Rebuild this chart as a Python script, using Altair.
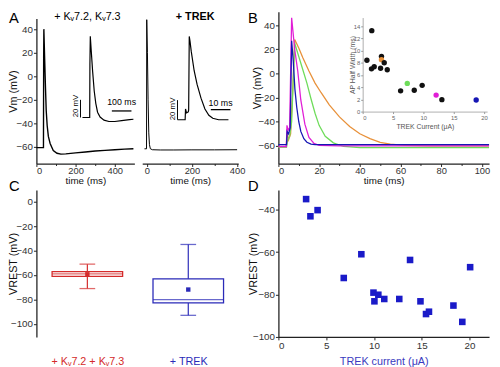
import altair as alt
import pandas as pd

FONT = "Liberation Sans"

# ---------------- Panel A: membrane potential traces ----------------
# A, left: + Kv7.2, Kv7.3 (main trace)
a1_t = [0, 36, 37, 38, 42, 46, 50, 55, 61, 70, 86, 105, 125, 150, 200, 250, 300, 350, 400, 450, 495]
a1_v = [-60.5, -60.5, 15, 40, 15, -8, -29, -42, -51, -57, -63, -65.3, -66, -65.8, -65, -64.2, -63.4, -62.8, -62.3, -61.8, -61.5]
# A, left inset (zoomed trace)
a1_in_t = [10, 47, 48, 50, 55, 62, 70, 78, 87, 100, 120, 145, 175, 210, 250, 270]
a1_in_v = [-60, -60, 0, 32, 15, -8, -30, -44, -54, -59.5, -63, -64.6, -64.6, -63.6, -62.4, -62]
# A, right: + TREK (main trace)
a2_t = [-10, -1, 0, 3, 6, 9, 12, 16, 25, 60, 120, 200, 300, 400]
a2_v = [-61.5, -61.5, 48, 20, -20, -48, -58, -61.5, -62.3, -62.5, -62.5, -62.4, -62.4, -62.3]
# A, right inset (zoomed trace)
a2_in_t = [0, 3.9, 4.1, 4.6, 5.5, 5.7, 6.0, 6.4, 7.0, 8.5, 10, 12, 14, 16, 18, 21, 26]
a2_in_v = [-60, -60, -49, -53, -52, -50, 25, 20, 10, -10, -24, -38, -49, -55.5, -58.5, -60, -60]
a_minor = [100, 300]

# ---------------- Panel B: four traces with different TREK currents ----------------
orange_t = [0, 3.8, 4.3, 5.0, 6.0, 7.0, 8, 10, 12, 15, 18, 21, 25, 30, 35, 40, 45, 50, 55, 62, 75, 103.5]
orange_v = [-61, -61, -49, -55, -50, -15, 28, 21, 13, 2, -8, -16, -26, -36, -44, -50, -54, -57, -58.5, -59.5, -60, -60]
green_t = [0, 4, 4.5, 5.5, 6.5, 7.3, 8, 10, 12, 14, 16, 18, 20, 23, 27, 32, 40, 103.5]
green_v = [-61, -61, -55, -52, -40, -5, 25, 14, 3, -8, -21, -33, -43, -52, -57.5, -60.5, -61.5, -61.5]
magenta_t = [0, 3.9, 4.2, 4.8, 5.5, 6.0, 6.5, 8, 9.5, 11, 13, 15, 17.5, 20, 30, 103.5]
magenta_v = [-60.5, -60.5, -43, -47, -45, 0, 46, 20, 2, -22, -42, -53, -58, -59.5, -60, -60]
navy_t = [0, 4, 4.3, 5.0, 5.8, 6.5, 7.3, 8.1, 9, 10, 11, 12.5, 14, 16, 18, 25, 103.5]
navy_v = [-59, -59, -48, -50, -45, 27, 10, -13, -28, -40, -48, -54, -57, -58.6, -59, -59, -59]
b_colors = ["#E8913A", "#6EDC5A", "#E11ED6", "#1616B4"]
b_minor = [10, 30, 50, 70, 90]

# B inset: AP half width vs TREK current
inset_cur = [1.5, 0.7, 1.45, 1.9, 3.1, 3.1, 3.55, 2.95, 4.05, 6.25, 8.5, 7.35, 9.8, 12.1, 13.05, 18.7]
inset_hw = [13.25, 8.4, 7.0, 7.35, 9.05, 8.5, 8.0, 7.1, 6.85, 3.4, 3.5, 4.62, 4.3, 2.7, 1.95, 1.9]
inset_col = ["#111111", "#111111", "#111111", "#111111", "#111111", "#E8913A", "#111111", "#111111",
             "#111111", "#111111", "#111111", "#6EDC5A", "#111111", "#E11ED6", "#111111", "#1616B4"]

# ---------------- Panel C: box plots of V_REST ----------------
c_groups = ["+ K\u1d657.2 + K\u1d657.3", "+ TREK"]
c_lo = [-71.1, -93.0]
c_q1 = [-61.2, -82.9]
c_med = [-59.1, -80.2]
c_q3 = [-57.2, -63.1]
c_hi = [-51.1, -35.0]
c_mean = [-59.4, -71.9]
c_color = ["#D42A2A", "#2A2AB8"]

# ---------------- Panel D: V_REST vs TREK current ----------------
d_cur = [2.9, 3.35, 4.1, 6.84, 8.68, 9.95, 10.05, 10.46, 11.08, 12.65, 13.78, 14.87, 15.45, 15.76, 18.32, 19.25, 20.07]
d_vrest = [-35.0, -43.1, -40.2, -72.2, -61.0, -79.1, -83.2, -80.1, -82.1, -82.1, -63.7, -83.2, -89.2, -88.1, -85.2, -92.9, -67.1]

# ---------------- layout constants ----------------
A_W, B_W = 206, 215          # panel A holds both sub-panels (0-100 and 108-206)
TOP_H = 155
C_W, D_W = 214, 215
BOT_H = 150


def lin(domain, rng=None):
    kw = dict(domain=domain, nice=False, zero=False)
    if rng is not None:
        kw["range"] = rng
    return alt.Scale(**kw)


def note(s, x, y, size=11, weight="normal", align="left", baseline="top", color="black"):
    return alt.Chart(pd.DataFrame({"s": [s]})).mark_text(
        align=align, baseline=baseline, fontSize=size, fontWeight=weight, color=color, font=FONT
    ).encode(x=alt.value(x), y=alt.value(y), text="s:N")


def minor_ticks(values, scale):
    # invisible marks that only carry an axis of short, unlabeled minor ticks
    return alt.Chart(pd.DataFrame({"m": values, "z": [0] * len(values)})).mark_point(opacity=0).encode(
        x=alt.X("m:Q", scale=scale, axis=alt.Axis(orient="bottom", values=values, labels=False, domain=False,
                                                  title=None, tickSize=2)),
        y=alt.Y("z:Q", scale=lin([0, 1], [TOP_H, 0]), axis=None),
    )


x_axis_top = dict(orient="bottom", tickSize=3, labelPadding=-1, labelFontSize=9.5, titleFontSize=10,
                  titleY=17.5, titleBaseline="middle")
a_yscale = lin([-74, 49], [TOP_H, 7])

# ---------- A, left sub-panel ----------
a1_xscale = lin([0, 500], [0, 100])
a1_main = alt.Chart(pd.DataFrame({"t": a1_t, "v": a1_v})).mark_line(color="black", strokeWidth=1.4).encode(
    x=alt.X("t:Q", scale=a1_xscale, axis=alt.Axis(values=[0, 200, 400], title="time (ms)", **x_axis_top)),
    y=alt.Y("v:Q", scale=a_yscale,
            axis=alt.Axis(orient="left", values=[40, 20, 0, -20, -40, -60], title="Vm (mV)", titleX=-23,
                          titleBaseline="middle")),
)
a1ix = lin([0, 270], [45, 99])
a1iy = lin([-70, 40], [117, 18])
a1_in_line = alt.Chart(pd.DataFrame({"t": a1_in_t, "v": a1_in_v})).mark_line(color="black", strokeWidth=1.2).encode(
    x=alt.X("t:Q", scale=a1ix, axis=None), y=alt.Y("v:Q", scale=a1iy, axis=None))
a1_vbar = alt.Chart(pd.DataFrame({"t": [0], "v": [-60], "v2": [-40]})).mark_rule(color="black").encode(
    x=alt.X("t:Q", scale=a1ix, axis=None), y=alt.Y("v:Q", scale=a1iy, axis=None), y2="v2:Q")
a1_hbar = alt.Chart(pd.DataFrame({"t": [160], "t2": [260], "v": [-52.6]})).mark_rule(color="black", strokeWidth=1.3).encode(
    x=alt.X("t:Q", scale=a1ix, axis=None), x2="t2:Q", y=alt.Y("v:Q", scale=a1iy, axis=None))
a1_lbl_v = alt.Chart(pd.DataFrame({"t": [-21], "v": [-47], "s": ["20 mV"]})).mark_text(
    angle=270, fontSize=8, font=FONT, baseline="middle", align="center").encode(
    x=alt.X("t:Q", scale=a1ix, axis=None), y=alt.Y("v:Q", scale=a1iy, axis=None), text="s:N")
a1_lbl_h = alt.Chart(pd.DataFrame({"t": [210], "v": [-48], "s": ["100 ms"]})).mark_text(
    fontSize=9, font=FONT, baseline="bottom", align="center").encode(
    x=alt.X("t:Q", scale=a1ix, axis=None), y=alt.Y("v:Q", scale=a1iy, axis=None), text="s:N")
a1_inset = alt.layer(a1_in_line, a1_vbar, a1_hbar, a1_lbl_v, a1_lbl_h)

# ---------- A, right sub-panel ----------
a2_xscale = lin([-20, 405], [108, 206])
a2_main = alt.Chart(pd.DataFrame({"t": a2_t, "v": a2_v})).mark_line(color="black", strokeWidth=1).encode(
    x=alt.X("t:Q", scale=a2_xscale, axis=alt.Axis(values=[0, 200, 400], title="time (ms)", **x_axis_top)),
    y=alt.Y("v:Q", scale=a_yscale, axis=None),
)
a2ix = lin([0, 30], [144, 204])
a2iy = lin([-70, 30], [120.3, 20.3])
a2_in_line = alt.Chart(pd.DataFrame({"t": a2_in_t, "v": a2_in_v})).mark_line(color="black", strokeWidth=1.2).encode(
    x=alt.X("t:Q", scale=a2ix, axis=None), y=alt.Y("v:Q", scale=a2iy, axis=None))
a2_vbar = alt.Chart(pd.DataFrame({"t": [0], "v": [-60], "v2": [-40]})).mark_rule(color="black").encode(
    x=alt.X("t:Q", scale=a2ix, axis=None), y=alt.Y("v:Q", scale=a2iy, axis=None), y2="v2:Q")
a2_hbar = alt.Chart(pd.DataFrame({"t": [17], "t2": [27], "v": [-49.7]})).mark_rule(color="black", strokeWidth=1.3).encode(
    x=alt.X("t:Q", scale=a2ix, axis=None), x2="t2:Q", y=alt.Y("v:Q", scale=a2iy, axis=None))
a2_lbl_v = alt.Chart(pd.DataFrame({"t": [-2.3], "v": [-49], "s": ["20 mV"]})).mark_text(
    angle=270, fontSize=8, font=FONT, baseline="middle", align="center").encode(
    x=alt.X("t:Q", scale=a2ix, axis=None), y=alt.Y("v:Q", scale=a2iy, axis=None), text="s:N")
a2_lbl_h = alt.Chart(pd.DataFrame({"t": [22], "v": [-47.5], "s": ["10 ms"]})).mark_text(
    fontSize=9, font=FONT, baseline="bottom", align="center").encode(
    x=alt.X("t:Q", scale=a2ix, axis=None), y=alt.Y("v:Q", scale=a2iy, axis=None), text="s:N")
a2_inset = alt.layer(a2_in_line, a2_vbar, a2_hbar, a2_lbl_v, a2_lbl_h)

A = alt.layer(
    a1_main, a1_inset, a2_main, a2_inset,
    minor_ticks(a_minor, a1_xscale), minor_ticks(a_minor, a2_xscale),
    note("A", -28, 0, size=15),
    note("+ K\u1d657.2, K\u1d657.3", 52, 0, size=11, align="center"),
    note("+ TREK", 162, 0, size=11, weight="bold", align="center"),
).resolve_scale(x="independent", y="independent").properties(width=A_W, height=TOP_H)

# ---------- B ----------
bx = lin([0, 103.5])
by = lin([-74.6, 51.1])
b_axes_x = alt.Axis(values=[0, 20, 40, 60, 80, 100], title="time (ms)", **x_axis_top)
b_axes_y = alt.Axis(orient="left", values=[40, 20, 0, -20, -40, -60], title="Vm (mV)", titleX=-21,
                    titleBaseline="middle")
b_lines = []
for tt, vv, col in zip([orange_t, green_t, magenta_t, navy_t], [orange_v, green_v, magenta_v, navy_v], b_colors):
    b_lines.append(
        alt.Chart(pd.DataFrame({"t": tt, "v": vv})).mark_line(color=col, strokeWidth=1.3).encode(
            x=alt.X("t:Q", scale=bx, axis=b_axes_x), y=alt.Y("v:Q", scale=by, axis=b_axes_y)))
b_main = alt.layer(*b_lines)

inset_axis_style = dict(labelFontSize=6, titleFontSize=7, labelColor="#666666", titleColor="#555555",
                        domainColor="#999999", tickColor="#999999", tickSize=2, labelPadding=1,
                        domainWidth=0.8, titleBaseline="middle")
b_inset = alt.Chart(pd.DataFrame({"cur": inset_cur, "hw": inset_hw, "col": inset_col})).mark_circle(
    size=30, opacity=1).encode(
    x=alt.X("cur:Q", scale=lin([0, 20.5], [86, 213]),
            axis=alt.Axis(orient="bottom", offset=-53, values=[0, 5, 10, 15, 20], title="TREK Current (\u03bcA)",
                          titleY=15, **inset_axis_style)),
    y=alt.Y("hw:Q", scale=lin([0, 15.4], [102, 6]),
            axis=alt.Axis(orient="left", offset=-86, values=[0, 2, 4, 6, 8, 10, 12, 14], title="AP Half Width (ms)",
                          titleX=-10, **inset_axis_style)),
    color=alt.Color("col:N", scale=None),
)

B = alt.layer(
    b_main, b_inset, minor_ticks(b_minor, bx),
    note("B", -31, 0, size=15),
).resolve_scale(x="independent", y="independent").properties(width=B_W, height=TOP_H)

# ---------- C ----------
c_df = pd.DataFrame({"g": c_groups, "lo": c_lo, "q1": c_q1, "med": c_med, "q3": c_q3,
                     "hi": c_hi, "mean": c_mean, "col": c_color})
c_xscale = alt.Scale(type="point", domain=c_groups, range=[52, 155], padding=0)
c_xaxis = alt.Axis(title=None, domain=False, ticks=False, tickSize=0, labelPadding=19, labelFontSize=11,
                   labelAngle=0,
                   labelColor={"condition": {"test": "datum.value === '+ TREK'", "value": "#2A2AB8"},
                               "value": "#D42A2A"})
c_yscale = lin([-110.7, 9.6])
c_yaxis = alt.Axis(values=[0, -20, -40, -60, -80, -100], title="VREST (mV)", titleX=-23, titleBaseline="middle")
cx = alt.X("g:N", scale=c_xscale, axis=c_xaxis)


def cy(field):
    return alt.Y(field, scale=c_yscale, axis=c_yaxis)


c_base = alt.Chart(c_df)
c_whisk = c_base.mark_rule(strokeWidth=1.2).encode(x=cx, y=cy("lo:Q"), y2="hi:Q",
                                                   color=alt.Color("col:N", scale=None))
c_box = c_base.mark_bar(size=72, fill="white", strokeWidth=1.3).encode(
    x=cx, y=cy("q1:Q"), y2="q3:Q", stroke=alt.Stroke("col:N", scale=None))
c_medm = c_base.mark_tick(size=72, thickness=1.3).encode(x=cx, y=cy("med:Q"), color=alt.Color("col:N", scale=None))
c_caplo = c_base.mark_tick(size=16, thickness=1.3).encode(x=cx, y=cy("lo:Q"), color=alt.Color("col:N", scale=None))
c_caphi = c_base.mark_tick(size=16, thickness=1.3).encode(x=cx, y=cy("hi:Q"), color=alt.Color("col:N", scale=None))
c_meanm = c_base.mark_square(size=20, opacity=1).encode(x=cx, y=cy("mean:Q"), color=alt.Color("col:N", scale=None))

C = alt.layer(c_whisk, c_box, c_medm, c_caplo, c_caphi, c_meanm,
              note("C", -28, -11, size=15)).properties(width=C_W, height=BOT_H)

# ---------- D ----------
D = alt.layer(
    alt.Chart(pd.DataFrame({"cur": d_cur, "v": d_vrest})).mark_square(size=45, color="#1A1AC8", opacity=1).encode(
        x=alt.X("cur:Q", scale=lin([0, 22.05]),
                axis=alt.Axis(values=[0, 5, 10, 15, 20], title="TREK current (\u03bcA)", titleColor="#3A3AC0",
                              tickSize=3, labelPadding=1, titleY=25, titleBaseline="middle", titleFontSize=11)),
        y=alt.Y("v:Q", scale=lin([-100, -30.7]),
                axis=alt.Axis(values=[-40, -60, -80, -100], title="VREST (mV)", titleX=-25, titleBaseline="middle")),
    ),
    note("D", -31, -11, size=15),
).properties(width=D_W, height=BOT_H)

chart = alt.concat(A, B, C, D, columns=2, spacing={"row": 27, "column": 33}, bounds="flush").properties(
    padding=0
).configure_view(
    stroke=None
).configure_axis(
    grid=False, labelFont=FONT, titleFont=FONT, labelFontSize=10, titleFontSize=11, titleFontWeight="normal",
    domainColor="#222222", tickColor="#222222", labelColor="#333333", titleColor="#111111",
    domainWidth=1.3, tickWidth=1, tickSize=3, labelPadding=1,
).configure_text(font=FONT)

chart.save("out.html", embed_options={"renderer": "svg", "actions": False})
